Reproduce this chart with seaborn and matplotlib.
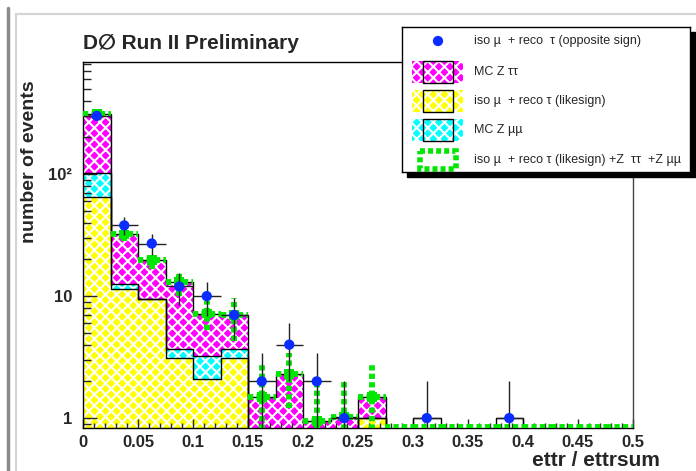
import numpy as np
import pandas as pd
import matplotlib
matplotlib.use("Agg")
import matplotlib.pyplot as plt
import seaborn as sns
from matplotlib.lines import Line2D
from matplotlib.patches import Rectangle
from matplotlib.ticker import FixedLocator, MultipleLocator, LogLocator, FuncFormatter, NullFormatter

# ---------------- data ----------------
bin_edges = [round(0.025 * i, 4) for i in range(21)]
bin_centers = (np.array(bin_edges[:-1]) + np.array(bin_edges[1:])) / 2

likesign = [65, 11.4, 9.4, 3.1, 2.1, 3.1, 0, 0, 0, 0, 1.0, 0, 0, 0, 0, 0, 0, 0, 0, 0]
z_mumu = [37, 1.1, 0, 0.6, 1.1, 0.6, 0, 0, 0, 0, 0, 0, 0, 0, 0, 0, 0, 0, 0, 0]
z_tautau = [208, 19.5, 10.3, 9.3, 4.0, 3.3, 1.5, 2.3, 0.95, 1.03, 0.48, 0, 0, 0, 0, 0, 0, 0, 0, 0]
opposite_sign = [300, 38, 27, 12, 10, 7, 2, 4, 2, 1, 0, 0, 1, 0, 0, 1, 0, 0, 0, 0]
total_err = [20, 3.5, 3, 3, 1.9, 2.7, 1.3, 1.1, 0.9, 1.05, 1.3, 0, 0, 0, 0, 0, 0, 0, 0, 0]
outline_only = [0, 0, 0, 0, 0, 0, 0, 0, 0, 0, 0, 0, 1, 0, 0, 1, 0, 0, 0, 0]

x_ticks = [0, 0.05, 0.1, 0.15, 0.2, 0.25, 0.3, 0.35, 0.4, 0.45, 0.5]
y_tick_labels = {1: "1", 10: "10", 100: "10²"}

legend_labels = [
    "iso µ  + reco  τ (opposite sign)",
    "MC Z ττ",
    "iso µ  + reco τ (likesign)",
    "MC Z µµ",
    "iso µ  + reco τ (likesign) +Z  ττ  +Z µµ",
]

MAGENTA = "#ff00ff"
YELLOW = "#ffff00"
CYAN = "#00ffff"
GREEN = "#00e600"
BLUE = "#0a2cff"

# ---------------- style ----------------
sns.set_style("ticks")
plt.rcParams["font.family"] = ["Liberation Sans", "DejaVu Sans"]
plt.rcParams["axes.axisbelow"] = "line"
plt.rcParams["hatch.linewidth"] = 1.5

W, H = 696, 471
fig = plt.figure(figsize=(W / 100, H / 100), dpi=100)
ax = fig.add_axes([83 / W, 1 - 428 / H, (633 - 83) / W, (428 - 62) / H])

ls = np.array(likesign, dtype=float)
mm = np.array(z_mumu, dtype=float)
tt = np.array(z_tautau, dtype=float)
layers = [
    (ls + mm + tt, MAGENTA),
    (ls + mm, CYAN),
    (ls, YELLOW),
]
HATCH = "xxx"


def hist_df(vals):
    return pd.DataFrame({"x": bin_centers, "w": np.asarray(vals, dtype=float)})


# filled hatched layers
for vals, col in layers:
    sns.histplot(data=hist_df(vals), x="x", weights="w", bins=bin_edges, element="step",
                 fill=True, color=col, alpha=1, edgecolor="white", linewidth=0,
                 ax=ax, zorder=1)
    ax.collections[-1].set_hatch(HATCH)

# black outlines
for vals, col in layers:
    sns.histplot(data=hist_df(vals), x="x", weights="w", bins=bin_edges, element="step",
                 fill=False, color="black", linewidth=1.0, ax=ax, zorder=2)
sns.histplot(data=hist_df(outline_only), x="x", weights="w", bins=bin_edges, element="step",
             fill=False, color="black", linewidth=1.0, ax=ax, zorder=2)

ax.set_yscale("log")
ymin, ymax = 0.83, 830
ax.set_ylim(ymin, ymax)
ax.set_xlim(0, 0.5)

# green total with dashed errors
total = ls + mm + tt
green_y = np.where(total > 0, total, ymin * 1.02)
cont = ax.errorbar(bin_centers, green_y, xerr=0.0125, yerr=total_err, fmt="none",
                   ecolor=GREEN, elinewidth=4.2, capsize=0, zorder=3)
for lc in cont.lines[2]:
    lc.set_linestyle((0, (0.9, 0.55)))
gm = total > 0
sns.scatterplot(x=bin_centers[gm], y=total[gm], color=GREEN, s=50, marker="s",
                edgecolor="none", ax=ax, zorder=3)

# blue data points
os_ = np.array(opposite_sign, dtype=float)
m = os_ > 0
ax.errorbar(bin_centers[m], os_[m], xerr=0.0125, yerr=np.sqrt(os_[m]), fmt="none",
            ecolor="#222222", elinewidth=1.0, capsize=0, zorder=4)
sns.scatterplot(x=bin_centers[m], y=os_[m], color=BLUE, s=55, edgecolor="none",
                ax=ax, zorder=5)

# axes styling
for sp in ax.spines.values():
    sp.set_visible(True)
    sp.set_color("black")
    sp.set_linewidth(1.0)
ax.spines["right"].set_color("#444444")
ax.set_xlabel("")
ax.set_ylabel("")
ax.xaxis.set_major_locator(FixedLocator(x_ticks))
ax.xaxis.set_minor_locator(MultipleLocator(0.01))
ax.xaxis.set_major_formatter(FuncFormatter(lambda v, p: f"{v:g}"))
ax.yaxis.set_major_locator(FixedLocator(list(y_tick_labels.keys())))
ax.yaxis.set_minor_locator(LogLocator(base=10, subs=np.arange(2, 10)))
ax.yaxis.set_major_formatter(FuncFormatter(lambda v, p: y_tick_labels.get(int(round(v)), "")))
ax.yaxis.set_minor_formatter(NullFormatter())
ax.tick_params(axis="x", which="major", direction="in", length=6.5, width=1, pad=5,
               labelsize=12, top=False)
ax.tick_params(axis="x", which="minor", direction="in", length=3.6, width=1, top=False)
ax.tick_params(axis="y", which="major", direction="in", length=10, width=1, pad=8,
               labelsize=12, right=False)
ax.tick_params(axis="y", which="minor", direction="in", length=5.8, width=1, right=False)
for lab in ax.get_xticklabels() + ax.get_yticklabels():
    lab.set_fontweight("bold")

# titles
fig.text(83 / W, 1 - 43 / H, "D\u2205 Run II Preliminary", ha="left", va="center",
         fontsize=15, fontweight="bold")
fig.text(660 / W, 1 - 460 / H, "ettr / ettrsum", ha="right", va="center",
         fontsize=15, fontweight="bold")
fig.text(30 / W, 1 - 162 / H, "number of events", ha="center", va="center",
         rotation=90, fontsize=14, fontweight="bold")

# canvas borders
fig.add_artist(Line2D([8 / W, 8 / W], [0, 1 - 8 / H], transform=fig.transFigure,
                      color="#8a8a8a", lw=2.5))
fig.add_artist(Line2D([16 / W, 16 / W], [0, 1 - 14 / H], transform=fig.transFigure,
                      color="#d4d4d4", lw=1.6))
fig.add_artist(Line2D([16 / W, 1], [1 - 14 / H, 1 - 14 / H], transform=fig.transFigure,
                      color="#d4d4d4", lw=1.6))

# legend (drawn as its own pixel-coordinate panel)
lx0, ly0, lx1, ly1 = 402, 27, 690, 172
fig.add_artist(Rectangle(((lx0 + 5) / W, 1 - (ly1 + 5) / H), (lx1 - lx0) / W,
                         (ly1 - ly0) / H, transform=fig.transFigure,
                         facecolor="black", edgecolor="black", zorder=8))
lax = fig.add_axes([lx0 / W, 1 - ly1 / H, (lx1 - lx0) / W, (ly1 - ly0) / H], zorder=10)
lax.set_xlim(0, lx1 - lx0)
lax.set_ylim(ly1 - ly0, 0)
lax.set_xticks([])
lax.set_yticks([])
for sp in lax.spines.values():
    sp.set_visible(True)
    sp.set_color("black")
    sp.set_linewidth(1.0)
lax.set_facecolor("white")

row_y = [14, 45, 74, 103, 133]
lax.scatter([36], [row_y[0]], s=55, color=BLUE, edgecolor="none")
for ry, col in zip(row_y[1:4], [MAGENTA, YELLOW, CYAN]):
    lax.add_patch(Rectangle((10, ry - 11), 51, 22, facecolor=col, edgecolor="white",
                            linewidth=0, hatch=HATCH))
    lax.add_patch(Rectangle((21, ry - 11), 30, 22, facecolor="none", edgecolor="black",
                            linewidth=1.0))
lax.add_patch(Rectangle((18, row_y[4] - 9), 36, 18, facecolor="none", edgecolor=GREEN,
                        linewidth=4.0, linestyle=(0, (0.9, 0.55))))
for ry, lab in zip(row_y, legend_labels):
    lax.text(72, ry, lab, ha="left", va="center", fontsize=9)

fig.savefig("out.png", dpi=100)
